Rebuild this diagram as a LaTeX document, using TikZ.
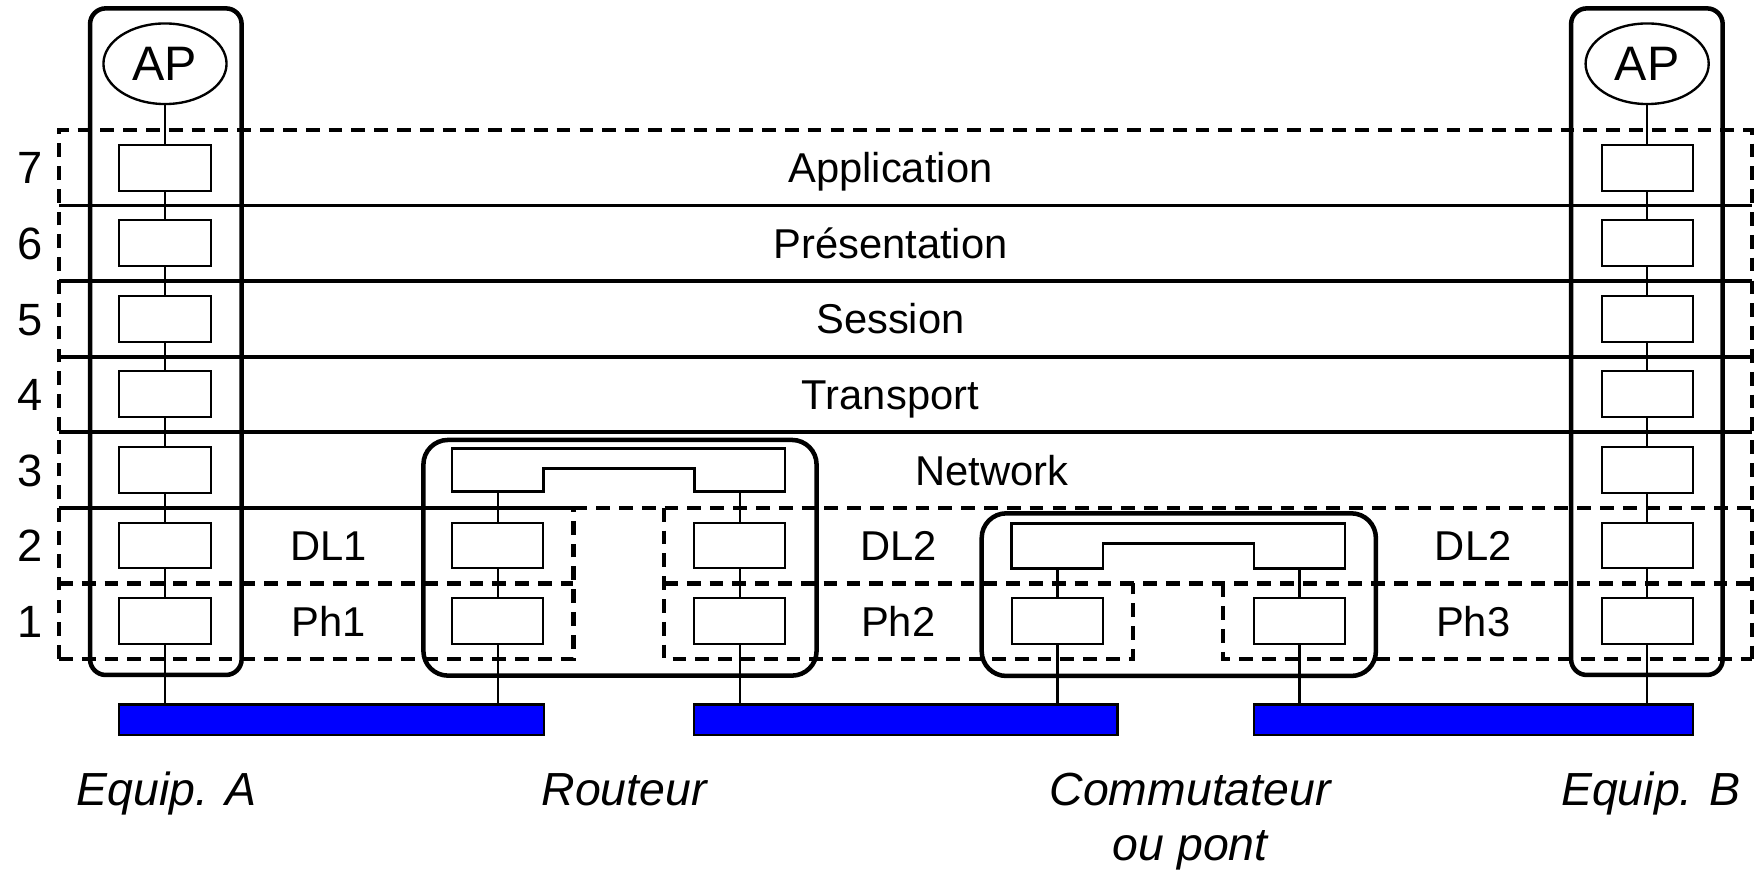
\documentclass[tikz,border=0pt]{standalone}
\usepackage{fontspec}
\setmainfont{Liberation Sans}
\usetikzlibrary{shapes.geometric}
\definecolor{busblue}{RGB}{0,0,255}
\tikzset{
  lay/.style={draw, line width=0.5pt, minimum width=0.815cm, minimum height=0.41cm, inner sep=0pt, fill=white},
  apnode/.style={draw, ellipse, line width=0.6pt, minimum width=1.10cm, minimum height=0.72cm, inner sep=0pt, font=\fontsize{12.3}{14}\selectfont},
  wire/.style={line width=0.6pt},
  equip/.style={line width=1.15pt, rounded corners=0.14cm},
  dev/.style={line width=1.15pt, rounded corners=0.22cm},
  solidsep/.style={line width=1.0pt},
  dsh/.style={line width=1.1pt, dash pattern=on 3.5pt off 2.3pt},
  netbox/.style={line width=0.65pt, fill=white},
  bus/.style={draw, fill=busblue, line width=0.6pt, inner sep=0pt, minimum height=0.273cm},
  ltxt/.style={font=\fontsize{10.6}{12}\selectfont, anchor=base, inner sep=0pt},
  numtxt/.style={font=\fontsize{11.5}{13}\selectfont, anchor=base, inner sep=0pt},
  captxt/.style={font=\fontsize{11.8}{14}\selectfont\itshape, anchor=base, inner sep=0pt},
}
\begin{document}
\begin{tikzpicture}[x=0.01cm, y=-0.01cm]
\useasboundingbox (0,0) rectangle (1568,780);

% ---- layer grid ----
\foreach \yy in {183.75,251.3,318.85,386.4}
  \draw[solidsep] (52.7,\yy) -- (1566.5,\yy);
\draw[solidsep] (52.7,453.95) -- (512.6,453.95);
\draw[dsh] (52.7,589.05) -- (52.7,116.2) -- (1566.5,116.2) -- (1566.5,589.05);
\draw[dsh] (512.6,453.95) -- (1566.5,453.95);
\draw[dsh] (52.7,589.05) -- (512.6,589.05) -- (512.6,453.95);
\draw[dsh] (52.7,521.5) -- (512.6,521.5);
\draw[dsh] (593.6,453.95) -- (593.6,589.05) -- (1012.6,589.05) -- (1012.6,521.5);
\draw[dsh] (593.6,521.5) -- (1566.5,521.5);
\draw[dsh] (1093.6,521.5) -- (1093.6,589.05) -- (1566.5,589.05);

% ---- device outlines ----
\draw[equip] (80.5,7.5) rectangle (216,603.4);
\draw[equip] (1404.5,7.5) rectangle (1540,603.4);
\draw[dev] (378.5,393.3) rectangle (730,604);
\draw[dev] (877.6,458.9) rectangle (1230,604.3);

% ---- buses ----
\node[bus, minimum width=3.793cm] (bus1) at (296.35,643.35) {};
\node[bus, minimum width=3.783cm] (bus2) at (809.85,643.35) {};
\node[bus, minimum width=3.922cm] (bus3) at (1317.1,643.35) {};

% ---- network boxes ----
\draw[netbox] (404,400.8) -- (701.8,400.8) -- (701.8,439.5) -- (620.7,439.5) -- (620.7,418.7) -- (486,418.7) -- (486,439.5) -- (404,439.5) -- cycle;
\coordinate (rnl) at (445,439.5);
\coordinate (rnr) at (661.25,439.5);
\draw[netbox] (904.4,467.8) -- (1202.4,467.8) -- (1202.4,508.1) -- (1121,508.1) -- (1121,485.7) -- (986,485.7) -- (986,508.1) -- (904.4,508.1) -- cycle;
\coordinate (cnl) at (945.4,508.1);
\coordinate (cnr) at (1161.7,508.1);

% ---- end systems ----
\node[apnode] (apA) at (147.5,57) {AP};
\node[apnode] (apB) at (1472.5,57) {AP};
\foreach \n/\yy in {7/150,6/217.5,5/285.1,4/352.6,3/420.2,2/487.7,1/555.3}{
  \node[lay] (a\n) at (147.5,\yy) {};
  \node[lay] (b\n) at (1472.5,\yy) {};
}
\draw[wire] (apA) -- (a7) -- (a6) -- (a5) -- (a4) -- (a3) -- (a2) -- (a1);
\draw[wire] (apB) -- (b7) -- (b6) -- (b5) -- (b4) -- (b3) -- (b2) -- (b1);
\draw[wire] (a1.south) -- (a1.south |- bus1.north);
\draw[wire] (b1.south) -- (b1.south |- bus3.north);

% ---- router ----
\node[lay] (r2l) at (445,487.7) {};
\node[lay] (r1l) at (445,555.3) {};
\node[lay] (r2r) at (661.25,487.7) {};
\node[lay] (r1r) at (661.25,555.3) {};
\draw[wire] (rnl) -- (r2l) -- (r1l);
\draw[wire] (rnr) -- (r2r) -- (r1r);
\draw[wire] (r1l.south) -- (r1l.south |- bus1.north);
\draw[wire] (r1r.south) -- (r1r.south |- bus2.north);

% ---- switch ----
\node[lay] (c1l) at (945.4,555.3) {};
\node[lay] (c1r) at (1161.7,555.3) {};
\draw[wire] (cnl) -- (c1l);
\draw[wire] (cnr) -- (c1r);
\draw[wire] (c1l.south) -- (c1l.south |- bus2.north);
\draw[wire] (c1r.south) -- (c1r.south |- bus3.north);

% ---- layer numbers ----
\foreach \n/\yy in {7/150,6/217.5,5/285.1,4/352.6,3/420.2,2/487.7,1/555.3}
  \node[numtxt] (n\n) at (27,\yy+14.5) {\n};

% ---- layer names ----
\node[ltxt] (tapp) at (796,163.4) {Application};
\node[ltxt] (tpre) at (796,230.9) {Présentation};
\node[ltxt] (tses) at (796,298.5) {Session};
\node[ltxt] (ttra) at (796,366) {Transport};
\node[ltxt] (tnet) at (886.5,433.6) {Network};
\node[ltxt] (tdl1) at (294,501.1) {DL1};
\node[ltxt] (tph1) at (294,568.7) {Ph1};
\node[ltxt] (tdl2a) at (803,501.1) {DL2};
\node[ltxt] (tph2) at (803,568.7) {Ph2};
\node[ltxt] (tdl2b) at (1317,501.1) {DL2};
\node[ltxt] (tph3) at (1317,568.7) {Ph3};

% ---- captions ----
\node[captxt] (cA) at (149,719.7) {Equip. A};
\node[captxt] (cR) at (558,719.7) {Routeur};
\node[captxt] (cC) at (1064,719.7) {Commutateur};
\node[captxt] (cC2) at (1064,769) {ou pont};
\node[captxt] (cB) at (1476,719.7) {Equip. B};
\end{tikzpicture}
\end{document}
